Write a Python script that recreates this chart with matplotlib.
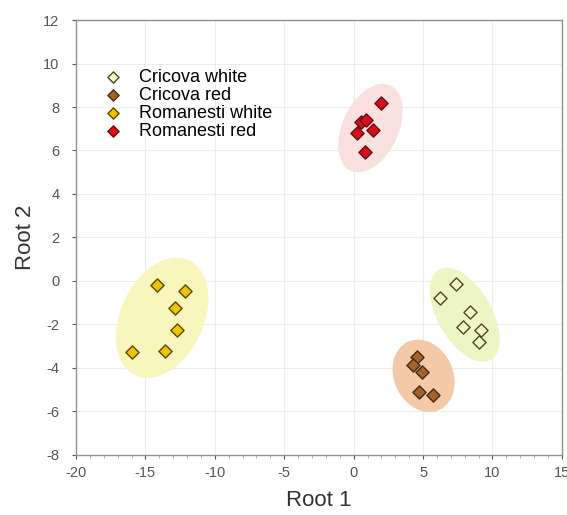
import numpy as np
import matplotlib
matplotlib.use("Agg")
import matplotlib.pyplot as plt
import matplotlib.transforms as transforms
from matplotlib.patches import Ellipse

plt.rcParams["font.family"] = ["Liberation Sans", "DejaVu Sans"]
plt.rcParams["axes.unicode_minus"] = False

groups = ["Cricova white", "Cricova red", "Romanesti white", "Romanesti red"]

cricova_white_x = [6.2, 7.35, 8.35, 7.85, 9.2, 9.0]
cricova_white_y = [-0.78, -0.14, -1.43, -2.11, -2.25, -2.8]

cricova_red_x = [4.55, 4.25, 4.95, 4.7, 5.75]
cricova_red_y = [-3.5, -3.86, -4.18, -5.1, -5.24]

romanesti_white_x = [-14.15, -12.15, -12.85, -12.7, -13.6, -15.95]
romanesti_white_y = [-0.18, -0.46, -1.24, -2.25, -3.22, -3.26]

romanesti_red_x = [2.0, 0.5, 0.92, 1.36, 0.27, 0.8]
romanesti_red_y = [8.18, 7.3, 7.4, 6.94, 6.8, 5.93]

# group ellipses: centre (data units), axes (pixels), tilt (deg)
ell_cx = [8.0, 5.04, -13.8, 1.21]
ell_cy = [-1.56, -4.37, -1.70, 7.03]
ell_major = [104, 75, 127, 94]
ell_minor = [54, 59, 83, 56]
ell_angle = [120, 115, 65, 65]

marker_fill = ["#f4f6c6", "#a4622c", "#f0c400", "#d8101e"]
marker_edge = ["#4a4a1a", "#4a2a10", "#5a4a00", "#6a0a10"]
ellipse_fill = ["#eef5c4", "#f3c9a8", "#f8f6bc", "#fbe0e0"]

fig = plt.figure(figsize=(5.67, 5.15), dpi=100)
ax = fig.add_axes([0.134, 0.117, 0.857, 0.844])

data = [
    (cricova_white_x, cricova_white_y),
    (cricova_red_x, cricova_red_y),
    (romanesti_white_x, romanesti_white_y),
    (romanesti_red_x, romanesti_red_y),
]

for i in range(4):
    e = Ellipse((0, 0), 1, 1, facecolor=ellipse_fill[i], edgecolor="none", zorder=1)
    t = (transforms.Affine2D().scale(ell_major[i], ell_minor[i]).rotate_deg(ell_angle[i])
         + transforms.ScaledTranslation(ell_cx[i], ell_cy[i], ax.transData))
    e.set_transform(t)
    ax.add_patch(e)

for i, (xs, ys) in enumerate(data):
    ax.scatter(xs, ys, marker="D", s=45, facecolor=marker_fill[i],
               edgecolor=marker_edge[i], linewidth=1.0, zorder=3, label=groups[i])

ax.set_xlim(-20, 15)
ax.set_ylim(-8, 12)
ax.set_xticks(np.arange(-20, 16, 5))
ax.set_yticks(np.arange(-8, 13, 2))
ax.set_xticks(np.arange(-20, 16, 1), minor=True)
ax.grid(True, color="#ededed", linewidth=0.8, zorder=0)
ax.set_axisbelow(True)
for s in ax.spines.values():
    s.set_color("#909090")
    s.set_linewidth(1.0)
ax.tick_params(labelsize=10.5, colors="#555555", length=3)
ax.tick_params(axis="y", pad=9)
ax.tick_params(axis="x", pad=5)
ax.tick_params(which="minor", length=2, colors="#999999")

ax.set_xlabel("Root 1", fontsize=16, color="#333333", labelpad=7)
ax.set_ylabel("Root 2", fontsize=16, color="#333333", labelpad=5)

ax.legend(loc="upper left", bbox_to_anchor=(0.012, 0.917), frameon=False,
          fontsize=13, handletextpad=0.45, labelspacing=0.05, borderpad=0.2,
          markerscale=0.85)

fig.savefig("out.png", dpi=100)
